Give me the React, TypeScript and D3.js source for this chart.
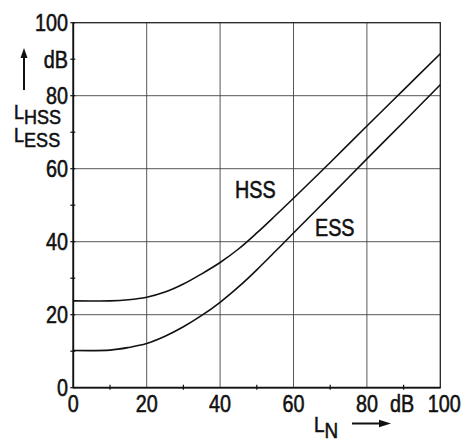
import * as d3 from "d3";

const xTicks = [0, 20, 40, 60, 80, 100];
const yTicks = [0, 20, 40, 60, 80, 100];
const minorTicks = [10, 30, 50, 70, 90];

const hssX = [0, 10, 15, 20, 25, 30, 35, 40, 45, 50, 55, 60, 70, 80, 90, 100];
const hssY = [23.8, 23.8, 24.1, 24.8, 26.2, 28.4, 31.2, 34.3, 38, 42.4, 47.1, 51.9, 61.7, 71.7, 81.6, 91.5];

const essX = [0, 10, 15, 20, 25, 30, 35, 40, 45, 50, 55, 60, 70, 80, 90, 100];
const essY = [10.2, 10.3, 11, 12.1, 14.1, 16.7, 19.8, 23.4, 27.6, 32.3, 37.3, 42.4, 52.5, 62.7, 72.8, 83];

const W = 462;
const H = 443;
const font = "'Liberation Sans', Arial, sans-serif";
const SQ = 0.86;

// squeezed text, DIN-like look
const T = ({ x, y, size = 23, anchor = "start", children }: any) => (
  <text
    transform={`translate(${x},${y}) scale(${SQ},1)`}
    textAnchor={anchor}
    fontSize={size}
    fill="#111"
    stroke="#111"
    strokeWidth={0.55}
  >
    {children}
  </text>
);

export default function App() {
  const x = d3.scaleLinear().domain([0, 100]).range([73.3, 440.3]);
  const y = d3.scaleLinear().domain([0, 100]).range([387.7, 22.7]);

  const line = d3
    .line<[number, number]>()
    .x((d) => x(d[0]))
    .y((d) => y(d[1]))
    .curve(d3.curveCatmullRom.alpha(0.5));

  const hss = line(hssX.map((v, i) => [v, hssY[i]]) as [number, number][]) || "";
  const ess = line(essX.map((v, i) => [v, essY[i]]) as [number, number][]) || "";

  return (
    <svg
      width={W}
      height={H}
      style={{ position: "absolute", left: 0, top: 0, background: "#fff" }}
      fontFamily={font}
    >
      {/* grid */}
      {xTicks.slice(1, -1).map((t) => (
        <line key={"gx" + t} x1={x(t)} x2={x(t)} y1={y(0)} y2={y(100)} stroke="#444" strokeWidth={0.9} />
      ))}
      {yTicks.slice(1, -1).map((t) => (
        <line key={"gy" + t} x1={x(0)} x2={x(100)} y1={y(t)} y2={y(t)} stroke="#444" strokeWidth={0.9} />
      ))}
      {/* frame */}
      <rect x={x(0)} y={y(100)} width={x(100) - x(0)} height={y(0) - y(100)} fill="none" stroke="#222" strokeWidth={1.3} />
      <line x1={x(0)} x2={x(0)} y1={y(0)} y2={y(100)} stroke="#111" strokeWidth={1.8} />
      <line x1={x(0)} x2={x(100)} y1={y(0)} y2={y(0)} stroke="#111" strokeWidth={1.8} />
      {/* ticks */}
      {yTicks.concat(minorTicks).map((t) => (
        <line key={"ty" + t} x1={x(0) - 3} x2={x(0) + 2} y1={y(t)} y2={y(t)} stroke="#111" strokeWidth={1.2} />
      ))}
      {minorTicks.map((t) => (
        <line key={"tx" + t} x1={x(t)} x2={x(t)} y1={y(0) - 3} y2={y(0) + 2} stroke="#111" strokeWidth={1.2} />
      ))}
      {/* curves */}
      <path d={hss} fill="none" stroke="#111" strokeWidth={1.6} />
      <path d={ess} fill="none" stroke="#111" strokeWidth={1.6} />

      {/* y tick labels */}
      {yTicks.map((t) => (
        <T key={"ly" + t} x={68} y={y(t) + 8.5} anchor="end">
          {t}
        </T>
      ))}
      {/* x tick labels */}
      {xTicks.map((t) => (
        <T key={"lx" + t} x={x(t) + (t === 100 ? 4 : 0)} y={412} anchor="middle">
          {t}
        </T>
      ))}
      <T x={390} y={412}>dB</T>

      {/* y axis title */}
      <T x={68} y={68} anchor="end">dB</T>
      <line x1={24} x2={24} y1={90} y2={56} stroke="#111" strokeWidth={2} />
      <path d="M24,48 L20.5,58 L27.5,58 Z" fill="#111" />
      <T x={14} y={119} size={21}>
        L<tspan dy={5}>HSS</tspan>
      </T>
      <T x={14} y={142} size={21}>
        L<tspan dy={5}>ESS</tspan>
      </T>

      {/* x axis title */}
      <T x={314} y={432} size={22}>
        L<tspan dy={6}>N</tspan>
      </T>
      <line x1={352} x2={380} y1={423.5} y2={423.5} stroke="#111" strokeWidth={2} />
      <path d="M391,423.5 L379,419.8 L379,427.2 Z" fill="#111" />

      {/* curve labels */}
      <T x={235} y={198} size={23}>HSS</T>
      <T x={315} y={236} size={23}>ESS</T>
    </svg>
  );
}
